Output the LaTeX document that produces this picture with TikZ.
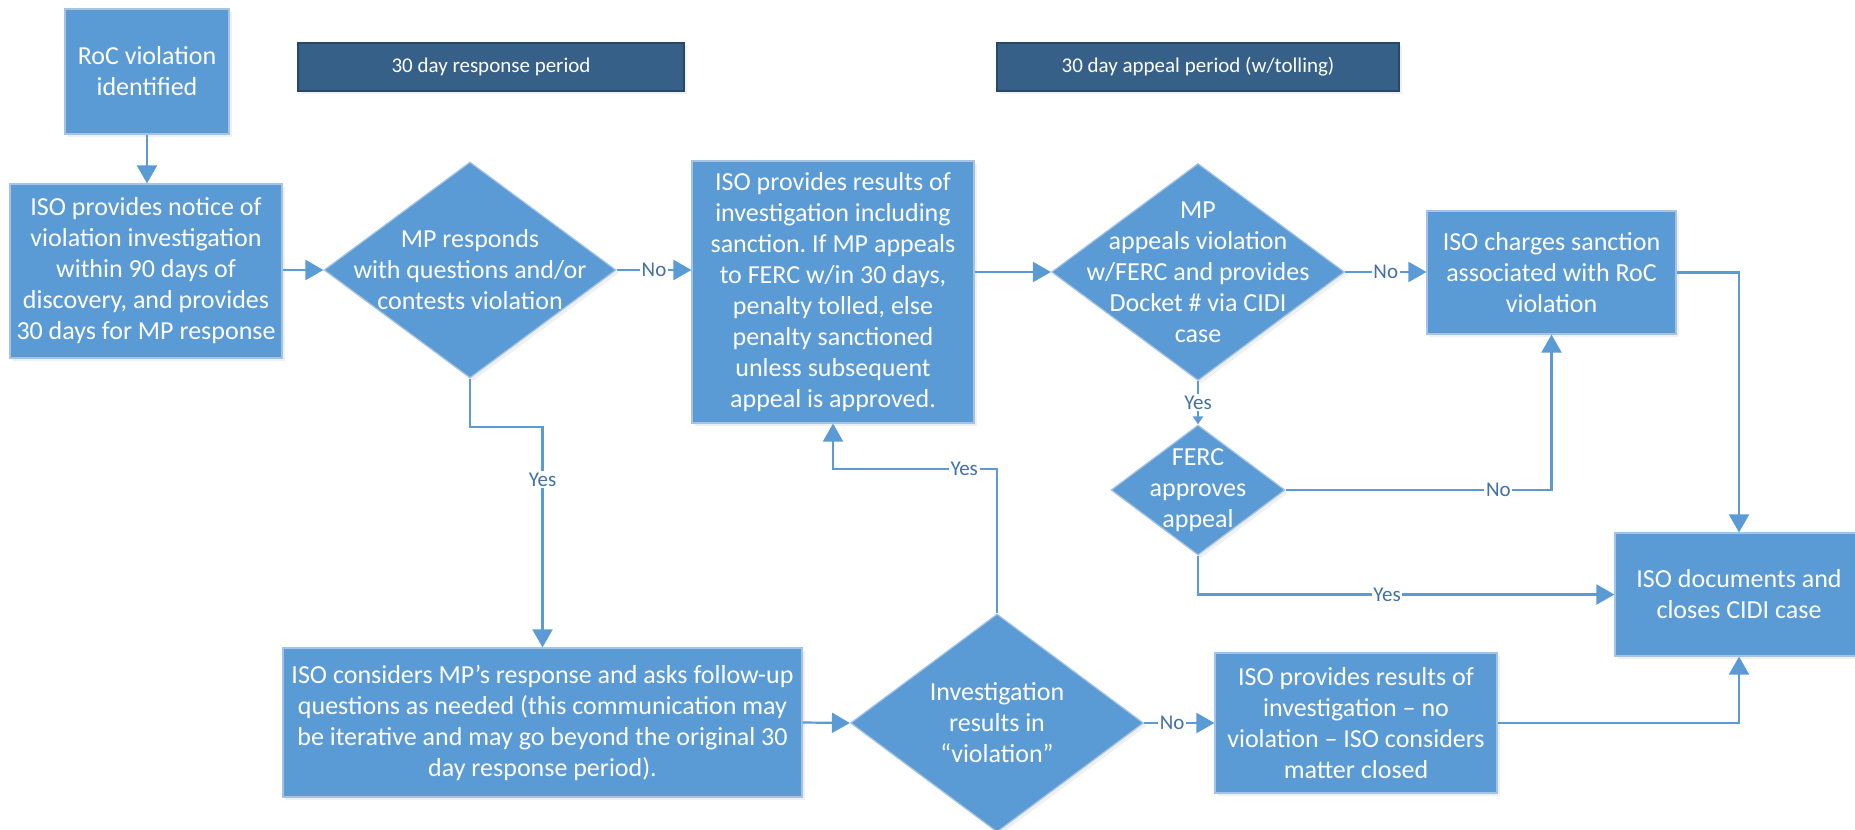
\documentclass[tikz,border=0pt]{standalone}
\usepackage{fontspec}
\setmainfont{Carlito}
\usetikzlibrary{shapes.geometric,arrows.meta,shadows}
\definecolor{boxblue}{RGB}{91,155,213}
\definecolor{boxedge}{RGB}{165,195,228}
\definecolor{hdrblue}{RGB}{55,96,137}
\definecolor{hdredge}{RGB}{40,72,104}
\definecolor{lblblue}{RGB}{65,113,166}
\frenchspacing
\begin{document}
\begin{tikzpicture}[x=0.5pt,y=-0.5pt,
  box/.style={rectangle, fill=boxblue, draw=boxedge, line width=0.6pt, text=white, align=center,
    font=\fontsize{13}{15.5}\selectfont, inner sep=0pt,
    drop shadow={opacity=0.12, shadow xshift=1.5pt, shadow yshift=-1.5pt}},
  dia/.style={diamond, fill=boxblue, draw=boxedge, line width=0.6pt, inner sep=0pt,
    drop shadow={opacity=0.12, shadow xshift=1.5pt, shadow yshift=-1.5pt}},
  dtext/.style={text=white, align=center, font=\fontsize{13}{15.5}\selectfont, inner sep=0pt},
  hdr/.style={rectangle, fill=hdrblue, draw=hdredge, line width=0.6pt, text=white,
    font=\fontsize{10.5}{12}\selectfont, inner sep=0pt,
    drop shadow={opacity=0.12, shadow xshift=1.5pt, shadow yshift=-1.5pt}},
  arr/.style={draw=boxblue, line width=1.1pt, -{Triangle[length=9pt,width=10pt]}},
  smallarr/.style={draw=boxblue, line width=1.1pt, -{Triangle[length=4pt,width=5pt]}},
  lbl/.style={fill=white, text=lblblue, font=\fontsize{10.5}{12}\selectfont, inner sep=0.8pt}]
\useasboundingbox (0,0) rectangle (1855,829);

% headers
\node[hdr, minimum width=193pt, minimum height=24pt] (h1) at (491,67) {30 day response period};
\node[hdr, minimum width=201pt, minimum height=24pt] (h2) at (1198,67) {30 day appeal period (w/tolling)};

% boxes
\node[box, minimum width=82pt, minimum height=62.5pt] (roc) at (147,71.5) {RoC violation\\identified};
\node[box, minimum width=136pt, minimum height=87pt] (notice) at (146,271) {ISO provides notice of\\violation investigation\\within 90 days of\\discovery, and provides\\30 days for MP response};

\node[dia, minimum width=146pt, minimum height=108pt] (d1) at (470,270) {};
\node[dtext] (d1t) at (d1) {MP responds\\with questions and/or\\contests violation};

\node[box, minimum width=141pt, minimum height=131pt] (results) at (833,292) {ISO provides results of\\investigation including\\sanction. If MP appeals\\to FERC w/in 30 days,\\penalty tolled, else\\penalty sanctioned\\unless subsequent\\appeal is approved.};

\node[dia, minimum width=146.5pt, minimum height=108.5pt] (d2) at (1198,272) {};
\node[dtext] (d2t) at (d2) {MP\\appeals violation\\w/FERC and provides\\Docket \# via CIDI\\case};

\node[box, minimum width=124.5pt, minimum height=61.5pt] (charges) at (1551.5,272.5) {ISO charges sanction\\associated with RoC\\violation};

\node[dia, minimum width=87pt, minimum height=65pt] (ferc) at (1198,490) {};
\node[dtext] (fercT) at (ferc) {FERC\\approves\\appeal};

\node[box, minimum width=124pt, minimum height=61.5pt] (docs) at (1739,594.5) {ISO documents and\\closes CIDI case};

\node[box, minimum width=259.5pt, minimum height=74.5pt] (considers) at (542.5,722.5) {ISO considers MP’s response and asks follow-up\\questions as needed (this communication may\\be iterative and may go beyond the original 30\\day response period).};

\node[dia, minimum width=146.5pt, minimum height=109pt] (d3) at (997,723) {};
\node[dtext] (d3t) at (d3) {Investigation\\results in\\“violation”};

\node[box, minimum width=141pt, minimum height=70pt] (noviol) at (1356,723) {ISO provides results of\\investigation – no\\violation – ISO considers\\matter closed};

% connectors
\coordinate (c1) at (470,427);
\coordinate (c2) at (997,469);
\draw[arr] (roc.south) -- (roc.south |- notice.north);
\draw[arr] (notice.east |- d1.west) -- (d1.west);
\draw[arr] (d1.east) -- node[lbl]{No} (d1.east -| results.west);
\draw[arr] (results.east |- d2.west) -- (d2.west);
\draw[arr] (d2.east) -- node[lbl]{No} (d2.east -| charges.west);
\draw[smallarr] (d2.south) -- node[lbl]{Yes} (ferc.north);
\draw[arr] (ferc.east) -| node[lbl, pos=0.4]{No} (charges.south);
\draw[arr] (ferc.south) |- node[lbl, pos=0.727]{Yes} (docs.west);
\draw[arr] (charges.east) -| (docs.north);
\draw[arr] (d1.south) -- (c1) -| node[lbl, pos=0.62]{Yes} (considers.north);
\draw[arr] (considers.east) -- (d3.west);
\draw[arr] (d3.east) -- node[lbl, pos=0.4]{No} (noviol.west);
\draw[arr] (noviol.east) -| (docs.south);
\draw[arr] (d3.north) -- (c2) -| node[lbl, pos=0.1]{Yes} (results.south);
\end{tikzpicture}
\end{document}
